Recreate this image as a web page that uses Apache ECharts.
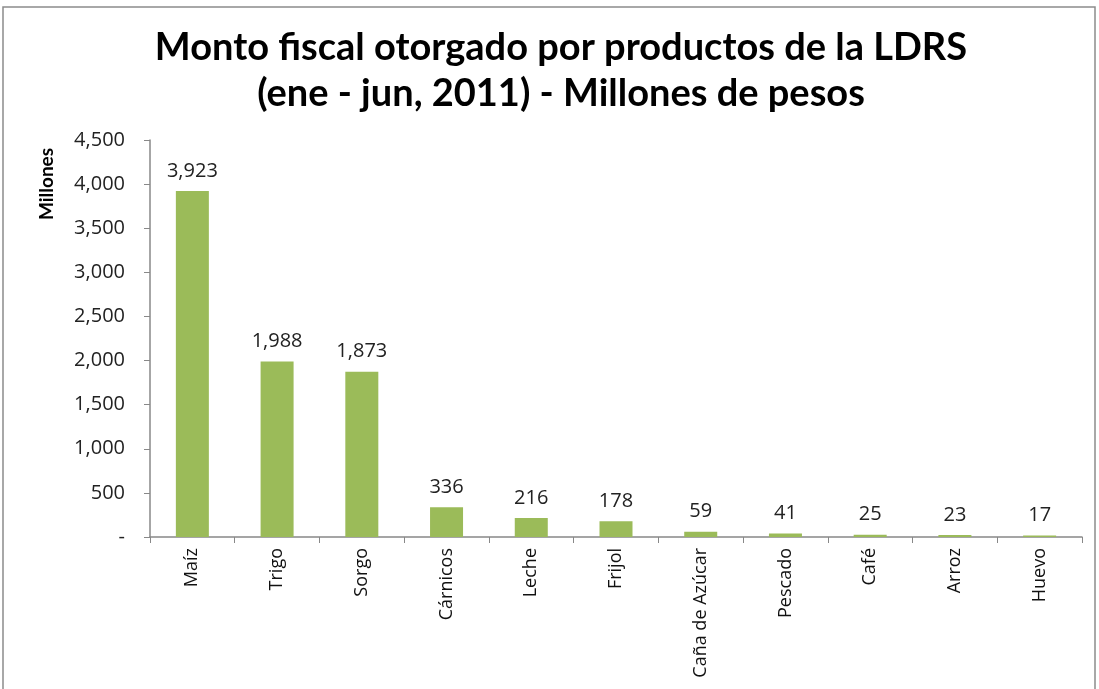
<!DOCTYPE html>
<html>
<head>
<meta charset="utf-8">
<script src="https://cdn.jsdelivr.net/npm/echarts@6/dist/echarts.min.js"></script>
<style>
html,body{margin:0;padding:0;background:#fff;}
#chart{width:1099px;height:689px;}
</style>
</head>
<body>
<div id="chart"></div>
<script>
const categories = ["Maíz","Trigo","Sorgo","Cárnicos","Leche","Frijol","Caña de Azúcar","Pescado","Café","Arroz","Huevo"];
const values = [3923,1988,1873,336,216,178,59,41,25,23,17];
const titleLines = ["Monto fiscal otorgado por productos de la LDRS","(ene - jun, 2011) - Millones de pesos"];
const yAxisName = "Millones";

const fmt = v => v === 0 ? "-" : v.toLocaleString("en-US");
const chart = echarts.init(document.getElementById("chart"));
chart.setOption({
  animation:false,
  backgroundColor:"#fff",
  graphic:[
    {type:"rect",shape:{x:3,y:7,width:1092,height:690},style:{fill:"none",stroke:"#8c8c8c",lineWidth:1.5},silent:true},
    {type:"text",x:47,y:184,rotation:Math.PI/2,style:{text:yAxisName,fontFamily:"Lato",fontWeight:"bold",fontSize:19,fill:"#000",textAlign:"center",textVerticalAlign:"middle"},silent:true}
  ],
  title:{
    text:titleLines.join("\n"),
    left:556, top:20, textAlign:"center",
    textStyle:{fontFamily:"Lato",fontWeight:"bold",fontSize:38,lineHeight:46,color:"#000"}
  },
  grid:{left:150,right:17,top:140,bottom:152,containLabel:false},
  xAxis:{
    type:"category",data:categories,
    axisLine:{lineStyle:{color:"#888",width:1.5}},
    axisTick:{show:true,length:6,lineStyle:{color:"#888"},alignWithLabel:false},
    axisLabel:{rotate:90,fontFamily:"Open Sans",fontSize:18,color:"#111",margin:11,interval:0}
  },
  yAxis:{
    type:"value",min:0,max:4500,interval:500,
    axisLine:{show:true,lineStyle:{color:"#888",width:1.5}},
    axisTick:{show:true,length:6,lineStyle:{color:"#888"}},
    splitLine:{show:false},
    axisLabel:{fontFamily:"Open Sans",fontSize:20,color:"#222",margin:25,formatter:fmt}
  },
  series:[{
    type:"bar",data:values,barWidth:33,
    itemStyle:{color:"#9BBB59"},
    label:{show:true,position:"top",distance:10,fontFamily:"Open Sans",fontSize:20,color:"#222",formatter:p=>fmt(p.value)}
  }]
});
</script>
</body>
</html>
